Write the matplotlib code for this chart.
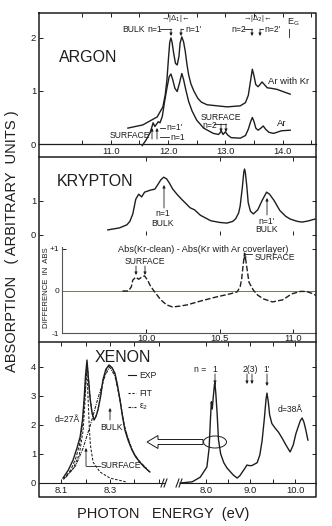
import matplotlib
matplotlib.use('Agg')
import matplotlib.pyplot as plt
from matplotlib.ticker import FixedLocator, FixedFormatter, NullFormatter
from matplotlib.patches import Ellipse, FancyArrow

# ---------------- data ----------------
# ARGON panel
ar_kr_E = [11.30, 11.56, 11.81, 11.91, 11.95, 11.98, 12.01, 12.03, 12.05, 12.07, 12.10, 12.13,
           12.16, 12.19, 12.21, 12.24, 12.27, 12.30, 12.33, 12.36, 12.40, 12.45, 12.52, 12.58,
           12.68, 13.03, 13.26, 13.35, 13.40, 13.44, 13.47, 13.50, 13.53, 13.57, 13.61, 13.64,
           13.68, 13.73, 13.80, 13.90, 14.00, 14.13]
ar_kr_A = [0.30, 0.36, 0.51, 0.70, 0.92, 1.20, 1.65, 1.92, 2.00, 1.92, 1.70, 1.52,
           1.49, 1.65, 1.90, 2.02, 1.93, 1.75, 1.50, 1.30, 1.13, 1.00, 0.86, 0.79,
           0.74, 0.70, 0.72, 0.78, 0.92, 1.20, 1.41, 1.28, 1.12, 1.08, 1.13, 1.17,
           1.12, 1.06, 1.05, 1.03, 0.99, 0.94]
ar_E = [11.55, 11.62, 11.69, 11.74, 11.77, 11.83, 11.86, 11.90, 11.94, 11.98, 12.02, 12.05,
        12.08, 12.12, 12.16, 12.20, 12.24, 12.27, 12.31, 12.36, 12.42, 12.50, 12.62, 12.79,
        12.88, 12.93, 12.96, 13.00, 13.04, 13.10, 13.26, 13.35, 13.40, 13.44, 13.47, 13.50,
        13.53, 13.57, 13.62, 13.66, 13.70, 13.76, 13.84, 13.98, 14.13]
ar_A = [-0.03, 0.08, 0.22, 0.40, 0.33, 0.42, 0.40, 0.52, 0.80, 1.05, 1.27, 1.32,
        1.22, 1.05, 0.99, 1.15, 1.33, 1.22, 1.02, 0.80, 0.62, 0.45, 0.30, 0.20,
        0.18, 0.24, 0.18, 0.23, 0.17, 0.12, 0.11, 0.16, 0.28, 0.42, 0.50, 0.42,
        0.30, 0.26, 0.30, 0.34, 0.28, 0.22, 0.20, 0.25, 0.26]

# KRYPTON panel
kr_E = [9.74, 9.82, 9.87, 9.89, 9.91, 9.93, 9.95, 9.97, 9.99, 10.03, 10.06, 10.08, 10.10,
        10.12, 10.14, 10.16, 10.18, 10.21, 10.24, 10.30, 10.33, 10.37, 10.44, 10.50, 10.55,
        10.59, 10.61, 10.63, 10.64, 10.655, 10.665, 10.67, 10.675, 10.685, 10.695, 10.71,
        10.73, 10.76, 10.79, 10.82, 10.84, 10.87, 10.91, 10.95, 10.98, 11.03, 11.06, 11.10, 11.15]
kr_A = [0.15, 0.21, 0.30, 0.40, 0.62, 1.05, 1.20, 1.12, 1.26, 1.32, 1.35, 1.48, 1.62,
        1.70, 1.65, 1.52, 1.36, 1.20, 1.06, 0.80, 0.74, 0.58, 0.42, 0.37, 0.35,
        0.40, 0.48, 0.65, 0.85, 1.40, 1.85, 1.94, 1.85, 1.45, 0.95, 0.70,
        0.62, 0.74, 1.02, 1.26, 1.20, 1.02, 0.72, 0.55, 0.47, 0.40, 0.38, 0.41, 0.47]

# Difference panel
diff_E = [9.84, 9.88, 9.90, 9.91, 9.93, 9.95, 9.97, 9.99, 10.01, 10.03, 10.05, 10.10, 10.14,
          10.18, 10.23, 10.28, 10.37, 10.48, 10.57, 10.62, 10.64, 10.65, 10.66, 10.67, 10.68,
          10.69, 10.70, 10.73, 10.76, 10.80, 10.86, 10.93, 10.99, 11.05, 11.09, 11.14, 11.16]
diff_D = [0.0, 0.0, 0.10, 0.26, 0.33, 0.28, 0.33, 0.36, 0.26, 0.12, 0.02, -0.21, -0.33,
          -0.38, -0.36, -0.33, -0.24, -0.14, -0.07, -0.02, 0.10, 0.28, 0.60, 0.90, 0.70,
          0.45, 0.21, 0.02, -0.10, -0.19, -0.26, -0.21, -0.07, -0.01, -0.01, -0.07, -0.12]

# XENON panel, left (expanded scale)
xe_exp_E = [8.108, 8.13, 8.149, 8.165, 8.178, 8.188, 8.194, 8.200, 8.206, 8.212, 8.218, 8.226,
            8.235, 8.243, 8.251, 8.262, 8.271, 8.283, 8.296, 8.308, 8.32, 8.33, 8.341, 8.351,
            8.361, 8.375, 8.39, 8.405, 8.422, 8.44, 8.463]
xe_exp_A = [0.17, 0.45, 0.79, 1.20, 1.59, 2.20, 2.86, 3.70, 4.24, 3.60, 2.97, 2.45,
            2.17, 2.30, 2.52, 3.00, 3.55, 3.92, 4.07, 3.98, 3.79, 3.40, 2.86, 2.30,
            1.83, 1.45, 1.14, 0.90, 0.72, 0.55, 0.38]
xe_fit_E = [8.11, 8.14, 8.16, 8.175, 8.186, 8.195, 8.202, 8.207, 8.213, 8.22, 8.228, 8.236,
            8.245, 8.255, 8.265, 8.275, 8.288, 8.298, 8.31, 8.322, 8.334, 8.345, 8.357, 8.37,
            8.385, 8.40, 8.42, 8.45]
xe_fit_A = [0.12, 0.45, 0.85, 1.30, 1.90, 2.80, 3.60, 4.10, 3.50, 2.85, 2.35, 2.20,
            2.35, 2.70, 3.20, 3.65, 3.97, 4.05, 3.95, 3.70, 3.20, 2.65, 2.05, 1.60,
            1.25, 0.97, 0.75, 0.50]
xe_eps_E = [8.12, 8.16, 8.19, 8.22, 8.25, 8.28, 8.298, 8.32, 8.34, 8.36, 8.39, 8.42, 8.46]
xe_eps_A = [0.20, 0.60, 1.20, 2.00, 2.90, 3.70, 4.00, 3.70, 2.90, 1.90, 1.15, 0.72, 0.40]
xe_surf_E = [8.11, 8.15, 8.175, 8.19, 8.198, 8.205, 8.21, 8.215, 8.22, 8.231, 8.259, 8.30, 8.37]
xe_surf_A = [0.15, 0.50, 1.00, 1.80, 2.80, 4.00, 3.00, 2.00, 1.30, 0.72, 0.38, 0.17, 0.03]

# XENON panel, right (d = 38 A film)
xe38_E = [7.42, 7.69, 7.87, 8.02, 8.07, 8.10, 8.12, 8.14, 8.16, 8.19, 8.20, 8.22, 8.25, 8.28,
          8.33, 8.40, 8.47, 8.61, 8.70, 8.76, 8.88, 8.92, 8.97, 9.03, 9.15, 9.21, 9.26, 9.31,
          9.35, 9.37, 9.40, 9.43, 9.48, 9.55, 9.63, 9.71, 9.80, 9.89, 9.96, 10.02, 10.07,
          10.12, 10.16, 10.20, 10.24, 10.29]
xe38_A = [0.0, 0.04, 0.20, 0.55, 1.20, 2.20, 2.80, 2.55, 2.90, 3.40, 3.45, 3.10, 2.40, 1.50,
          1.00, 0.70, 0.52, 0.28, 0.17, 0.25, 0.52, 0.62, 0.60, 0.60, 0.70, 0.97, 1.45, 2.20,
          2.90, 3.10, 2.80, 2.35, 2.05, 1.90, 1.75, 1.55, 1.30, 1.07, 1.31, 1.70, 1.93,
          2.15, 2.24, 2.10, 1.85, 1.48]

# tick labels
ar_xticks = [11.0, 12.0, 13.0, 14.0]
ar_yticks = [0, 1, 2]
kr_xticks = [10.0, 10.5, 11.0]
kr_yticks = [0, 1]
diff_yticks = [-1, 0, 1]
diff_ylabels = ['-1', '0', '+1']
xeL_xticks = [8.1, 8.3]
xeR_xticks = [8.0, 9.0, 10.0]
xe_yticks = [0, 1, 2, 3, 4]

# ---------------- figure ----------------
W, H = 332, 526
DPI = 100
INK = '#1e1e1e'
NARROW = ['Liberation Sans Narrow', 'Liberation Sans', 'DejaVu Sans']
REG = ['Liberation Sans', 'DejaVu Sans']
plt.rcParams['font.family'] = NARROW
plt.rcParams['text.color'] = INK
plt.rcParams['mathtext.fontset'] = 'custom'
plt.rcParams['mathtext.rm'] = 'Liberation Sans Narrow'
plt.rcParams['mathtext.it'] = 'Liberation Sans Narrow'

fig = plt.figure(figsize=(W / DPI, H / DPI), dpi=DPI)
fig.patch.set_facecolor('white')


def rect(x0, y0, x1, y1):
    return [x0 / W, 1 - y1 / H, (x1 - x0) / W, (y1 - y0) / H]


def base(ax, xlim, ylim):
    ax.set_xlim(*xlim)
    ax.set_ylim(*ylim)
    ax.patch.set_alpha(0)
    for s in ['top', 'right', 'left', 'bottom']:
        ax.spines[s].set_visible(False)
    ax.tick_params(axis='both', which='both', direction='in', length=3, width=0.7,
                   colors=INK, labelsize=6.8, pad=2)


LW = 1.0

# ARGON
axA = fig.add_axes(rect(39, 13, 316, 157))
base(axA, (9.75, 14.58), (-0.245, 2.47))
axA.spines['bottom'].set_visible(True)
axA.spines['bottom'].set_position(('data', 0))
axA.spines['bottom'].set_linewidth(0.9)
axA.spines['bottom'].set_color(INK)
axA.xaxis.set_ticks_position('both')
axA.yaxis.set_ticks_position('both')
axA.set_xticks(ar_xticks)
axA.set_xticklabels([f'{v:.1f}' for v in ar_xticks])
axA.xaxis.set_minor_locator(FixedLocator([10.5, 11.5, 12.5, 13.5, 14.5]))
axA.set_yticks(ar_yticks)
axA.set_yticklabels([str(v) for v in ar_yticks])
axA.plot(ar_kr_E, ar_kr_A, color=INK, lw=LW)
axA.plot(ar_E, ar_A, color=INK, lw=LW)

# KRYPTON
axK = fig.add_axes(rect(39, 157, 316, 235))
base(axK, (9.272, 11.156), (0, 2.294))
axK.xaxis.set_ticks_position('both')
axK.yaxis.set_ticks_position('both')
axK.set_xticks(kr_xticks)
axK.xaxis.set_major_formatter(NullFormatter())
axK.set_yticks(kr_yticks)
axK.set_yticklabels([str(v) for v in kr_yticks])
axK.plot(kr_E, kr_A, color=INK, lw=LW)

# DIFFERENCE
axD = fig.add_axes(rect(39, 235, 316, 342))
base(axD, (9.272, 11.156), (-1.214, 1.333))
x_inner = 9.43
axD.spines['left'].set_visible(True)
axD.spines['left'].set_position(('data', x_inner))
axD.spines['left'].set_bounds(-1.0, 1.05)
axD.spines['bottom'].set_visible(True)
axD.spines['bottom'].set_position(('data', -1.0))
axD.spines['bottom'].set_bounds(x_inner, 11.156)
for s in ['left', 'bottom']:
    axD.spines[s].set_color('#555555')
    axD.spines[s].set_linewidth(0.8)
axD.xaxis.set_ticks_position('bottom')
axD.yaxis.set_ticks_position('both')
axD.set_xticks(kr_xticks)
axD.set_xticklabels([f'{v:.1f}' for v in kr_xticks])
axD.tick_params(axis='x', pad=1)
axD.set_yticks(diff_yticks)
axD.yaxis.set_major_formatter(FixedFormatter(diff_ylabels))
axD.tick_params(axis='y', labelsize=6)
axD.hlines(0, x_inner, 11.156, color='#6f7a5e', lw=0.7)
axD.plot(diff_E, diff_D, color=INK, lw=LW, dashes=(4, 1.6))

# XENON left
axXL = fig.add_axes(rect(39, 342, 168, 497))
base(axXL, (8.010, 8.537), (-0.483, 4.862))
axXL.spines['bottom'].set_visible(True)
axXL.spines['bottom'].set_position(('data', 0))
axXL.spines['bottom'].set_bounds(8.010, 8.524)
axXL.spines['bottom'].set_color(INK)
axXL.xaxis.set_ticks_position('both')
axXL.yaxis.set_ticks_position('left')
axXL.set_xticks(xeL_xticks)
axXL.set_xticklabels([f'{v:.1f}' for v in xeL_xticks])
axXL.xaxis.set_minor_locator(FixedLocator([8.2, 8.4, 8.5]))
axXL.set_yticks(xe_yticks)
axXL.set_yticklabels([str(v) for v in xe_yticks])
axXL.plot(xe_eps_E, xe_eps_A, color=INK, lw=0.75, dashes=(3, 1, 1, 1))
axXL.plot(xe_surf_E, xe_surf_A, color=INK, lw=0.75, dashes=(2.5, 1.5))
axXL.plot(xe_fit_E, xe_fit_A, color=INK, lw=0.75, dashes=(3, 1.5))
axXL.plot(xe_exp_E, xe_exp_A, color=INK, lw=LW)

# XENON right
axXR = fig.add_axes(rect(168, 342, 316, 497))
base(axXR, (7.146, 10.472), (-0.483, 4.862))
axXR.spines['bottom'].set_visible(True)
axXR.spines['bottom'].set_position(('data', 0))
axXR.spines['bottom'].set_bounds(7.416, 10.472)
axXR.spines['bottom'].set_color(INK)
axXR.xaxis.set_ticks_position('both')
axXR.yaxis.set_ticks_position('right')
axXR.set_xticks(xeR_xticks)
axXR.set_xticklabels([f'{v:.1f}' for v in xeR_xticks])
axXR.xaxis.set_minor_locator(FixedLocator([8.5, 9.5]))
axXR.set_yticks(xe_yticks[1:])
axXR.yaxis.set_major_formatter(NullFormatter())
axXR.plot(xe38_E, xe38_A, color=INK, lw=LW)

# ---------------- overlay for frame, labels, annotations ----------------
ov = fig.add_axes([0, 0, 1, 1], zorder=10)
ov.set_xlim(0, W)
ov.set_ylim(H, 0)
ov.axis('off')
ov.patch.set_alpha(0)

FR = dict(color=INK, lw=1.1, solid_capstyle='projecting')
ov.plot([39, 316, 316, 39, 39], [13, 13, 497, 497, 13], **FR)
for yy in (157, 342):
    ov.plot([39, 316], [yy, yy], **FR)


def T(x, y, s, size=6.2, ha='left', va='center', fam=NARROW, **kw):
    ov.text(x, y, s, fontsize=size, ha=ha, va=va, family=fam, color=INK, **kw)


def L(xs, ys, lw=0.6, **kw):
    ov.plot(xs, ys, color=INK, lw=lw, **kw)


def ARR(x, y0, y1):
    ov.annotate('', xy=(x, y1), xytext=(x, y0),
                arrowprops=dict(arrowstyle='-|>', lw=0.6, color=INK, mutation_scale=4,
                                shrinkA=0, shrinkB=0))


# break marks on xenon zero line
for bx in (164, 179):
    L([bx - 3, bx], [487, 479], lw=0.8)
    L([bx, bx + 3], [487, 479], lw=0.8)

# axis titles
T(12, 241, 'ABSORPTION   ( ARBITRARY  UNITS )', size=10.5, ha='center', rotation=90)
T(163, 514, 'PHOTON   ENERGY  (eV)', size=10.5, ha='center')

# ARGON annotations
T(59, 58, 'ARGON', size=11.5, fam=REG)
T(122, 29, 'BULK', size=6.2)
T(147, 29, 'n=1', size=6.2)
L([160, 171], [29, 29]); ARR(171, 29, 36)
T(185, 29, "n=1'", size=6.2)
L([183, 181], [29, 29]); ARR(181, 29, 36)
T(175, 19, '→|Δ$_1$|←', size=5.5, ha='center')
T(231, 29, 'n=2', size=6.2)
L([244, 252], [29, 29]); ARR(252, 29, 36)
T(264, 29, "n=2'", size=6.2)
L([263, 260], [29, 29]); ARR(260, 29, 36)
T(257, 19, '→|Δ$_2$|←', size=5.5, ha='center')
T(287, 22, 'E$_G$', size=6.5)
L([289, 289], [29, 37])
T(268, 81, 'Ar with Kr', size=6.8)
T(277, 123, 'Ar', size=6.8)
T(110, 136, 'SURFACE', size=6.2)
ARR(152, 139, 128); ARR(157, 139, 128)
L([160, 165], [128, 128]); T(166, 128, "n=1'", size=6.2)
L([160, 169], [137, 137]); T(170, 137, 'n=1', size=6.2)
T(201, 117, 'SURFACE', size=6.2)
T(202, 125, 'n=2', size=6.2)
L([214, 226], [124, 124]); ARR(221, 124, 132); ARR(226, 124, 132)

# KRYPTON annotations
T(57, 182, 'KRYPTON', size=11.5, fam=REG)
ARR(164, 208, 185)
T(163, 214, 'n=1', size=6.2, ha='center')
T(163, 224, 'BULK', size=6.2, ha='center')
ARR(267, 215, 198)
T(267, 221, "n=1'", size=6.2, ha='center')
T(266, 230, 'BULK', size=6.2, ha='center')

# DIFFERENCE annotations
T(203, 249, 'Abs(Kr-clean) - Abs(Kr with Ar coverlayer)', size=6.6, ha='center')
T(47, 288, 'DIFFERENCE  IN  ABS', size=5.6, ha='center', rotation=90)
T(145, 262, 'SURFACE', size=6.2, ha='center')
ARR(136, 266, 275); ARR(145, 266, 275)
T(255, 258, 'SURFACE', size=6.2)
L([252, 245], [254, 254]); ARR(245, 254, 260)

# XENON annotations
T(95, 357, 'XENON', size=11.5, fam=REG)
L([128, 136], [375, 375], lw=0.8); T(139, 375, 'EXP', size=6.2)
L([128, 136], [393, 393], lw=0.8, dashes=(2, 1.5)); T(139, 393, 'FIT', size=6.2)
L([128, 136], [407, 407], lw=0.8, dashes=(2.5, 1, 0.8, 1)); T(139, 407, 'ε$_2$', size=6.2)
T(55, 420, 'd=27Å', size=6.2)
T(100, 428, 'BULK', size=6.2)
ARR(110, 420, 408)
T(101, 466, 'SURFACE', size=6.2)
L([86, 100], [466, 466]); ARR(86, 466, 448)
T(194, 370, 'n =', size=6.2)
T(215, 370, '1', size=6.2, ha='center'); ARR(215, 374, 384)
T(250, 370, '2(3)', size=6.2, ha='center'); ARR(247, 374, 384); ARR(252, 374, 384)
T(267, 370, "1'", size=6.2, ha='center'); ARR(267, 374, 386)
T(278, 410, 'd=38Å', size=6.2)
ov.add_patch(Ellipse((215, 442), 23, 12, fill=False, ec=INK, lw=0.7))
ov.add_patch(FancyArrow(203, 442, -56, 0, width=5, head_width=13, head_length=11,
                        length_includes_head=True, fc='white', ec=INK, lw=0.7))

fig.savefig('out.png', dpi=DPI, facecolor='white')
